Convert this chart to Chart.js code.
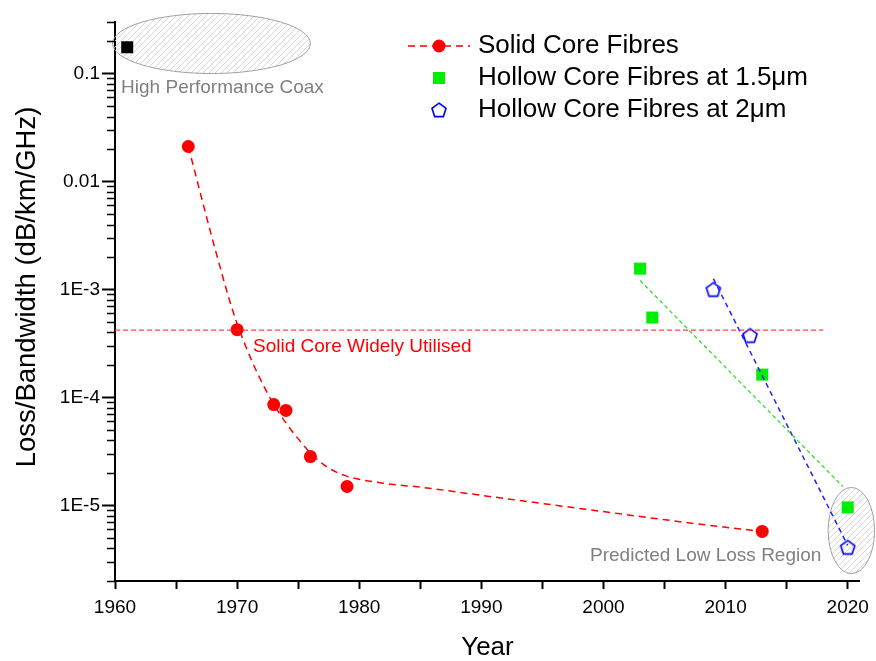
<!DOCTYPE html>
<html>
<head>
<meta charset="utf-8">
<script src="https://cdn.jsdelivr.net/npm/chart.js@4.4.1/dist/chart.umd.min.js"></script>
<style>
    body { margin: 0; background: #fff; }
    #chart { display: block; }
</style>
</head>
<body>
<canvas id="chart" width="876" height="661"></canvas>
<script>
// values
const solidYears = [1966, 1970, 1973, 1974, 1976, 1979, 2013];
const solidLoss = [0.0211, 4.25e-4, 8.6e-5, 7.6e-5, 2.84e-5, 1.5e-5, 5.75e-6];

// dashed guide curve through the solid core points
const solidFitYears = [1966, 1968.3, 1969.9, 1972.5, 1975.6, 1977.3, 1978.8, 1981.6, 1985.2, 1991.2, 1999.3, 2007.5, 2013];
const solidFitLoss = [0.0211, 2.15e-3, 5.2e-4, 1.09e-4, 3.44e-5, 2.3e-5, 1.9e-5, 1.63e-5, 1.47e-5, 1.19e-5, 9.0e-6, 6.8e-6, 5.75e-6];

const coaxYears = [1961];
const coaxLoss = [0.175];

const hc15Years = [2003, 2004, 2013, 2020];
const hc15Loss = [1.56e-3, 5.5e-4, 1.63e-4, 9.6e-6];
const hc15TrendYears = [2003, 2019.6];
const hc15TrendLoss = [1.21e-3, 1.5e-5];

const hc2Years = [2009, 2012, 2020];
const hc2Loss = [1.0e-3, 3.75e-4, 4.1e-6];
const hc2TrendYears = [2009, 2020];
const hc2TrendLoss = [1.26e-3, 4.27e-6];

const widelyUsedYears = [1960, 2018];
const widelyUsedLoss = [4.2e-4, 4.2e-4];

const xTickYears = [1960, 1965, 1970, 1975, 1980, 1985, 1990, 1995, 2000, 2005, 2010, 2015, 2020];
const yMajorValues = [1e-5, 1e-4, 1e-3, 0.01, 0.1];
const yTickLabels = ['1E-5', '1E-4', '1E-3', '0.01', '0.1'];

const FONT = '"Liberation Sans", Arial, sans-serif';
const Y_MIN = 2e-6;
const Y_MAX = 0.3;

function pts(xs, ys) {
    return xs.map((x, i) => ({x: x, y: ys[i]}));
}

// log axis ticks: decades are major, 2..9 are minor
const yTicks = [];
for (let e = -6; e <= -1; e++) {
    for (let m = 1; m <= 9; m++) {
        const v = m * Math.pow(10, e);
        if (v >= Y_MIN * 0.999 && v <= Y_MAX * 1.001) {
            yTicks.push({value: v, major: m === 1});
        }
    }
}

function yLabel(v) {
    const i = yMajorValues.findIndex(m => Math.abs(v - m) / m < 1e-6);
    return i >= 0 ? yTickLabels[i] : '';
}

function makePentagon() {
    const c = document.createElement('canvas');
    c.width = 18;
    c.height = 18;
    const g = c.getContext('2d');
    g.beginPath();
    for (let i = 0; i < 5; i++) {
        const a = -Math.PI / 2 + i * 2 * Math.PI / 5;
        const px = 9 + 7.4 * Math.cos(a);
        const py = 9.6 + 7.4 * Math.sin(a);
        if (i === 0) g.moveTo(px, py); else g.lineTo(px, py);
    }
    g.closePath();
    g.strokeStyle = '#0000ff';
    g.lineWidth = 1.6;
    g.stroke();
    return c;
}

function makeHatch() {
    const c = document.createElement('canvas');
    c.width = 6;
    c.height = 6;
    const g = c.getContext('2d');
    g.strokeStyle = '#d4d4d4';
    g.lineWidth = 0.9;
    g.beginPath();
    g.moveTo(0, 6); g.lineTo(6, 0);
    g.moveTo(-1, 1); g.lineTo(1, -1);
    g.moveTo(5, 7); g.lineTo(7, 5);
    g.stroke();
    return c;
}

const pentagon = makePentagon();

const decorations = {
    id: 'decorations',
    beforeDatasetsDraw(chart) {
        const {ctx, scales: {x, y}} = chart;
        const pattern = ctx.createPattern(makeHatch(), 'repeat');
        const regions = [
            {x0: 1959.8, x1: 1976.0, y0: 0.36, y1: 0.1},
            {x0: 2018.4, x1: 2022.2, y0: 1.47e-5, y1: 2.34e-6}
        ];
        regions.forEach(r => {
            const l = x.getPixelForValue(r.x0), rr = x.getPixelForValue(r.x1);
            const t = y.getPixelForValue(r.y0), b = y.getPixelForValue(r.y1);
            ctx.save();
            ctx.beginPath();
            ctx.ellipse((l + rr) / 2, (t + b) / 2, (rr - l) / 2, (b - t) / 2, 0, 0, Math.PI * 2);
            ctx.fillStyle = pattern;
            ctx.fill();
            ctx.strokeStyle = '#a0a0a0';
            ctx.lineWidth = 1;
            ctx.stroke();
            ctx.restore();
        });
    },
    afterDraw(chart) {
        const {ctx, scales: {x, y}} = chart;
        ctx.save();

        // minor ticks on the log axis are shorter
        ctx.strokeStyle = '#000';
        ctx.lineWidth = 1.5;
        const ax = chart.chartArea.left;
        y.ticks.forEach(t => {
            if (t.major) return;
            const py = Math.round(y.getPixelForValue(t.value)) + 0.5;
            ctx.beginPath();
            ctx.moveTo(ax, py);
            ctx.lineTo(ax - 8, py);
            ctx.stroke();
        });

        // y axis title
        ctx.save();
        ctx.translate(27, 287);
        ctx.rotate(-Math.PI / 2);
        ctx.textAlign = 'center';
        ctx.textBaseline = 'middle';
        ctx.font = '27.5px ' + FONT;
        ctx.fillStyle = '#000';
        ctx.fillText('Loss/Bandwidth (dB/km/GHz)', 0, 0);
        ctx.restore();

        // notes
        ctx.textBaseline = 'middle';
        ctx.textAlign = 'left';
        ctx.font = '19px ' + FONT;
        ctx.fillStyle = '#808080';
        ctx.fillText('High Performance Coax', x.getPixelForValue(1960.5), y.getPixelForValue(0.0742));
        ctx.fillText('Predicted Low Loss Region', x.getPixelForValue(1998.9), y.getPixelForValue(3.44e-6));
        ctx.fillStyle = '#ff0000';
        ctx.fillText('Solid Core Widely Utilised', x.getPixelForValue(1971.3), y.getPixelForValue(2.96e-4));

        // legend
        const lx = 439, rows = [46, 78, 110];
        ctx.font = '26px ' + FONT;
        ctx.fillStyle = '#000';
        ctx.fillText('Solid Core Fibres', 478, rows[0]);
        ctx.fillText('Hollow Core Fibres at 1.5\u03bcm', 478, rows[1]);
        ctx.fillText('Hollow Core Fibres at 2\u03bcm', 478, rows[2]);

        ctx.strokeStyle = '#ff0000';
        ctx.lineWidth = 1.5;
        ctx.setLineDash([7, 5]);
        ctx.beginPath();
        ctx.moveTo(408, rows[0]);
        ctx.lineTo(470, rows[0]);
        ctx.stroke();
        ctx.setLineDash([]);
        ctx.fillStyle = '#ff0000';
        ctx.beginPath();
        ctx.arc(lx, rows[0], 6.5, 0, Math.PI * 2);
        ctx.fill();

        ctx.fillStyle = '#00ee00';
        ctx.fillRect(lx - 6, rows[1] - 6, 12, 12);

        ctx.drawImage(pentagon, lx - 9, rows[2] - 9);
        ctx.restore();
    }
};

const ctx = document.getElementById('chart').getContext('2d');
new Chart(ctx, {
    type: 'scatter',
    data: {
        datasets: [{
            label: 'Solid Core Widely Utilised',
            data: pts(widelyUsedYears, widelyUsedLoss),
            showLine: true,
            borderColor: 'rgba(255,40,40,0.85)',
            borderWidth: 1.2,
            borderDash: [5, 3],
            pointRadius: 0
        }, {
            label: 'Solid Core fit',
            data: pts(solidFitYears, solidFitLoss),
            showLine: true,
            cubicInterpolationMode: 'monotone',
            borderColor: '#ff0000',
            borderWidth: 1.5,
            borderDash: [7, 5],
            pointRadius: 0
        }, {
            label: 'Hollow 1.5 trend',
            data: pts(hc15TrendYears, hc15TrendLoss),
            showLine: true,
            borderColor: '#33dd33',
            borderWidth: 1.3,
            borderDash: [4, 3],
            pointRadius: 0
        }, {
            label: 'Hollow 2 trend',
            data: pts(hc2TrendYears, hc2TrendLoss),
            showLine: true,
            borderColor: '#2020ff',
            borderWidth: 1.5,
            borderDash: [5, 4],
            pointRadius: 0
        }, {
            label: 'Solid Core Fibres',
            data: pts(solidYears, solidLoss),
            pointStyle: 'circle',
            pointRadius: 6.5,
            backgroundColor: '#ff0000',
            borderColor: '#ff0000',
            borderWidth: 0
        }, {
            label: 'High Performance Coax',
            data: pts(coaxYears, coaxLoss),
            pointStyle: 'rect',
            pointRadius: 8.5,
            backgroundColor: '#000',
            borderColor: '#000',
            borderWidth: 0
        }, {
            label: 'Hollow Core Fibres at 1.5\u03bcm',
            data: pts(hc15Years, hc15Loss),
            pointStyle: 'rect',
            pointRadius: 8.5,
            backgroundColor: '#00ee00',
            borderColor: '#00ee00',
            borderWidth: 0
        }, {
            label: 'Hollow Core Fibres at 2\u03bcm',
            data: pts(hc2Years, hc2Loss),
            pointStyle: pentagon,
            pointRadius: 8
        }]
    },
    options: {
        responsive: false,
        animation: false,
        events: [],
        devicePixelRatio: 1,
        layout: {
            padding: {top: 22, right: 10, left: 0, bottom: 0}
        },
        scales: {
            x: {
                type: 'linear',
                min: 1960,
                max: 2021,
                afterBuildTicks: s => {
                    s.ticks = xTickYears.map(v => ({value: v}));
                },
                afterFit: s => {
                    s.height = 80;
                },
                grid: {
                    drawOnChartArea: false,
                    tickLength: 8,
                    color: '#000',
                    tickWidth: 2
                },
                border: {color: '#000', width: 2},
                ticks: {
                    autoSkip: false,
                    maxRotation: 0,
                    padding: 7,
                    color: '#000',
                    font: {family: FONT, size: 19},
                    callback: v => v % 10 === 0 ? String(v) : ''
                },
                title: {
                    display: true,
                    text: 'Year',
                    color: '#000',
                    font: {family: FONT, size: 26, lineHeight: 1.0},
                    padding: 0
                }
            },
            y: {
                type: 'logarithmic',
                min: Y_MIN,
                max: Y_MAX,
                afterBuildTicks: s => {
                    s.ticks = yTicks.map(t => ({value: t.value, major: t.major}));
                },
                afterFit: s => {
                    s.width = 115;
                },
                grid: {
                    drawOnChartArea: false,
                    tickLength: 13,
                    color: '#000',
                    tickColor: c => (c.tick && c.tick.major) ? '#000' : 'rgba(0,0,0,0)',
                    tickWidth: 2
                },
                border: {color: '#000', width: 2},
                ticks: {
                    autoSkip: false,
                    padding: 2,
                    color: '#000',
                    font: {family: FONT, size: 19},
                    callback: v => yLabel(v)
                },
                title: {display: false}
            }
        },
        plugins: {
            legend: {display: false},
            tooltip: {enabled: false}
        }
    },
    plugins: [decorations]
});
</script>
</body>
</html>
